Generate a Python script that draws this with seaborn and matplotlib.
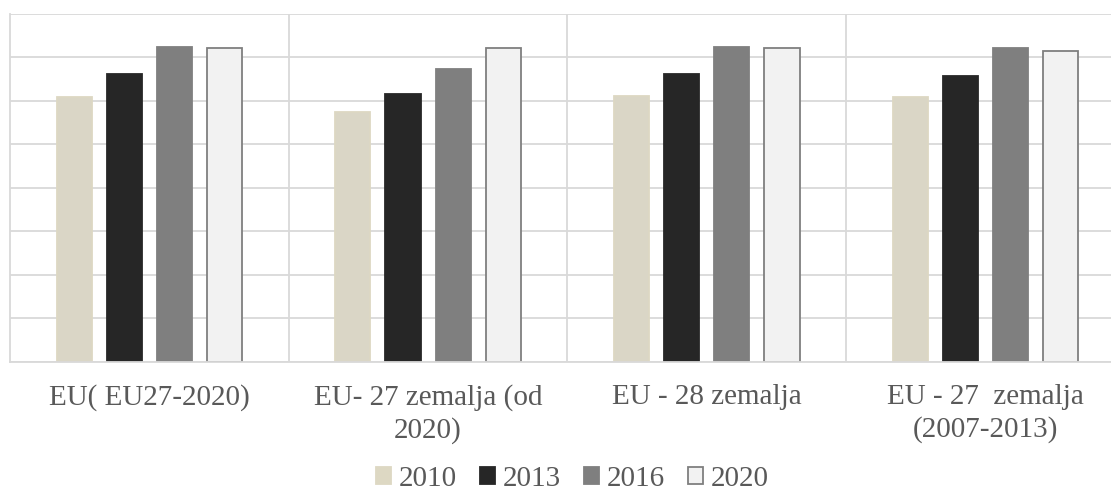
import pandas as pd
import seaborn as sns
import matplotlib.pyplot as plt

# chart data
categories = ["EU( EU27-2020)", "EU- 27 zemalja (od 2020)", "EU - 28 zemalja", "EU - 27  zemalja (2007-2013)"]
tick_labels = ["EU( EU27-2020)", "EU- 27 zemalja (od\n2020)", "EU - 28 zemalja", "EU - 27  zemalja\n(2007-2013)"]
years = ["2010", "2013", "2016", "2020"]
v2010 = [60.8, 57.4, 61.2, 60.8]
v2013 = [66.2, 61.7, 66.2, 65.7]
v2016 = [72.5, 67.4, 72.5, 72.1]
v2020 = [72.1, 72.1, 72.1, 71.5]

colors = ["#DDD8C3", "#262626", "#7F7F7F", "#F2F2F2"]
edges = ["#DDD8C3", "#262626", "#7F7F7F", "#7F7F7F"]

rows = []
for yr, vals in zip(years, [v2010, v2013, v2016, v2020]):
    for cat, v in zip(categories, vals):
        rows.append({"Kategorija": cat, "Godina": yr, "Vrijednost": v})
df = pd.DataFrame(rows)

sns.set_theme(style="white")
plt.rcParams['font.family'] = ['Liberation Serif', 'DejaVu Serif']

fig = plt.figure(figsize=(11.11, 4.97), dpi=100)
ax = fig.add_axes([10 / 1111, 135.3 / 497, 1114.8 / 1111, 347.7 / 497])

sns.barplot(data=df, x="Kategorija", y="Vrijednost", hue="Godina",
            palette=colors, width=0.72, gap=0.3, ax=ax, legend=False)

# edges: light series gets a grey outline
for cont, ec in zip(ax.containers, edges):
    for bar in cont:
        bar.set_edgecolor(ec)
        bar.set_linewidth(1.3)

ax.set_ylim(0, 80)
ax.set_yticks(range(0, 81, 10))
ax.set_yticklabels([])
ax.set_xlim(-0.5, 3.5)
ax.set_xticks(range(len(categories)))
ax.set_xticklabels(tick_labels, color="#595959", fontsize=21, linespacing=1.28)
ax.set_xticks([0.5, 1.5, 2.5], minor=True)
ax.tick_params(axis="both", which="both", length=0)
ax.tick_params(axis="x", pad=16)
ax.set_xlabel("")
ax.set_ylabel("")

ax.set_axisbelow(True)
ax.yaxis.grid(True, color="#D9D9D9", linewidth=1.3)
ax.xaxis.grid(True, which="minor", color="#D9D9D9", linewidth=1.3)
ax.xaxis.grid(False, which="major")
for side in ["top", "right"]:
    ax.spines[side].set_visible(False)
for side in ["left", "bottom"]:
    ax.spines[side].set_color("#D9D9D9")
    ax.spines[side].set_linewidth(1.3)

handles = [plt.Rectangle((0, 0), 1, 1, facecolor=c, edgecolor=e, linewidth=1.3)
           for c, e in zip(colors, edges)]
leg = fig.legend(handles, years, loc="center", bbox_to_anchor=(0.515, 0.036),
                 ncol=4, frameon=False, fontsize=21, handlelength=0.52,
                 handleheight=0.52, handletextpad=0.25, columnspacing=0.8,
                 borderpad=0.1)
for t in leg.get_texts():
    t.set_color("#595959")

fig.savefig("out.png", dpi=100)
